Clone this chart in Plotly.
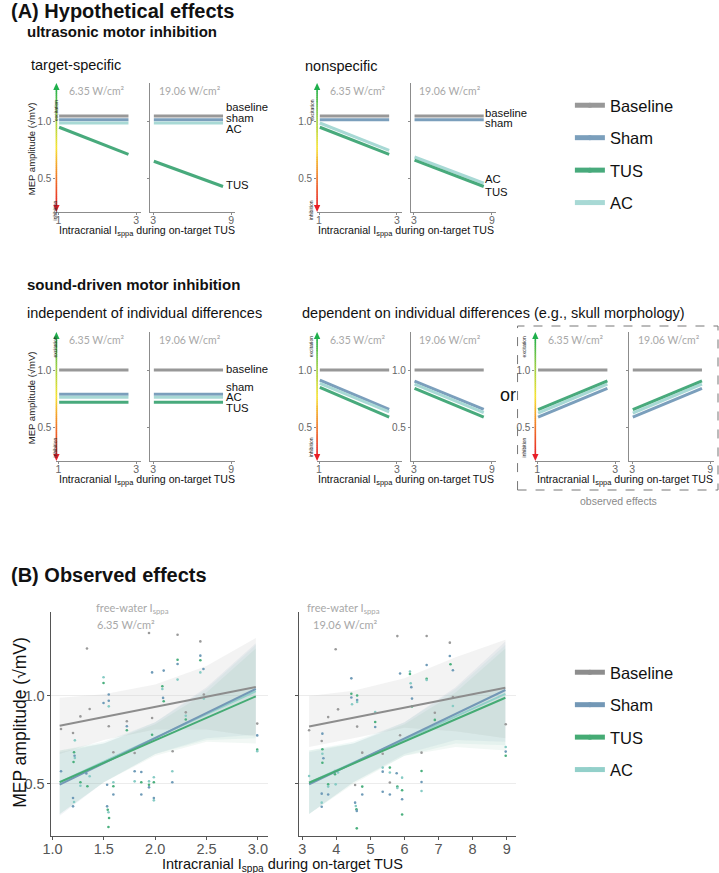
import numpy as np
import plotly.graph_objects as go

W, H = 719, 873
def fx(px): return px / W
def fy(py): return 1 - py / H

FONT = "Liberation Sans, Arial, Helvetica, sans-serif"
LIGHT = "Lato, 'Open Sans', sans-serif"

# ---------------- data ----------------
conditions = ["Baseline", "Sham", "TUS", "AC"]
line_colors = {"Baseline": "#989898", "Sham": "#7b9fbc", "TUS": "#48aa7c", "AC": "#a8d9d5"}
b_line_colors = {"Baseline": "#8d8d8d", "Sham": "#7398b6", "TUS": "#45ab74", "AC": "#93d0ca"}
point_colors = {"B": "#9a9a9a", "S": "#6f9bb8", "T": "#4bb07e", "A": "#86cbc4"}
ribbon_fill = {"Baseline": "rgba(200,200,200,0.22)", "Sham": "rgba(120,150,175,0.10)",
               "TUS": "rgba(90,170,130,0.08)", "AC": "rgba(150,205,200,0.13)"}

# (A) hypothetical effects: start / end values of each line
hyp_x_low = [1.02, 2.8]
hyp_x_high = [3.05, 8.37]
target_low = {"Baseline": [1.043, 1.043], "Sham": [1.011, 1.011], "AC": [0.983, 0.983], "TUS": [0.946, 0.71]}
target_high = {"Baseline": [1.043, 1.043], "Sham": [1.011, 1.011], "AC": [0.983, 0.983], "TUS": [0.65, 0.43]}
nonspec_low = {"Baseline": [1.043, 1.043], "Sham": [1.011, 1.011], "AC": [0.983, 0.745], "TUS": [0.946, 0.71]}
nonspec_high = {"Baseline": [1.043, 1.043], "Sham": [1.011, 1.011], "AC": [0.687, 0.46], "TUS": [0.66, 0.43]}
indep_low = {"Baseline": [1.0, 1.0], "Sham": [0.788, 0.788], "AC": [0.762, 0.762], "TUS": [0.72, 0.72]}
indep_high = {"Baseline": [1.0, 1.0], "Sham": [0.788, 0.788], "AC": [0.762, 0.762], "TUS": [0.72, 0.72]}
dep_low = {"Baseline": [1.0, 1.0], "Sham": [0.912, 0.658], "AC": [0.883, 0.635], "TUS": [0.848, 0.59]}
dep_high = {"Baseline": [1.0, 1.0], "Sham": [0.903, 0.658], "AC": [0.877, 0.629], "TUS": [0.84, 0.59]}
obs_low = {"Baseline": [1.0, 1.0], "Sham": [0.59, 0.84], "AC": [0.625, 0.877], "TUS": [0.655, 0.906]}
obs_high = {"Baseline": [1.0, 1.0], "Sham": [0.59, 0.84], "AC": [0.625, 0.877], "TUS": [0.655, 0.906]}

# (B) observed effects: regression lines
b_x_low = [1.07, 2.98]
b_x_high = [3.2, 8.96]
b_lines_low = {"Baseline": [0.831, 1.051], "Sham": [0.496, 1.04], "AC": [0.51, 1.027], "TUS": [0.511, 0.998]}
b_lines_high = {"Baseline": [0.826, 1.047], "Sham": [0.498, 1.034], "AC": [0.507, 1.012], "TUS": [0.507, 0.99]}

# confidence ribbons
rib_x_low = [1.07, 1.5, 2.0, 2.5, 2.98]
rib_x_high = [3.2, 4.5, 6.0, 7.5, 8.96]
rib_upper_low = {"Baseline": [0.99, 1.01, 1.065, 1.17, 1.33], "Sham": [0.68, 0.73, 0.85, 1.05, 1.30],
                 "AC": [0.69, 0.74, 0.85, 1.04, 1.29], "TUS": [0.69, 0.73, 0.84, 1.02, 1.27]}
rib_lower_low = {"Baseline": [0.67, 0.75, 0.81, 0.81, 0.77], "Sham": [0.32, 0.51, 0.67, 0.76, 0.78],
                 "AC": [0.33, 0.51, 0.67, 0.75, 0.76], "TUS": [0.33, 0.51, 0.66, 0.74, 0.73]}
rib_upper_high = {"Baseline": [1.0, 1.03, 1.10, 1.22, 1.32], "Sham": [0.68, 0.73, 0.85, 1.05, 1.31],
                  "AC": [0.69, 0.74, 0.85, 1.04, 1.29], "TUS": [0.69, 0.73, 0.84, 1.02, 1.27]}
rib_lower_high = {"Baseline": [0.71, 0.76, 0.82, 0.80, 0.76], "Sham": [0.33, 0.51, 0.67, 0.75, 0.74],
                  "AC": [0.33, 0.51, 0.66, 0.73, 0.72], "TUS": [0.33, 0.50, 0.66, 0.71, 0.69]}

# individual observations (x, y, condition)
points_low = [
    (1.083, 0.8125, "B"), (1.083, 0.572, "S"), (1.20, 0.79, "B"), (1.218, 0.748, "A"),
    (1.21, 0.68, "T"), (1.215, 0.66, "S"), (1.218, 0.648, "A"), (1.205, 0.625, "T"),
    (1.20, 0.42, "S"), (1.21, 0.398, "A"), (1.20, 0.373, "S"), (1.272, 0.884, "B"),
    (1.272, 0.51, "T"), (1.272, 0.49, "A"), (1.33, 0.56, "S"), (1.336, 1.27, "B"),
    (1.34, 0.487, "T"), (1.362, 0.926, "B"), (1.362, 0.544, "A"), (1.497, 1.106, "A"),
    (1.497, 1.074, "T"), (1.497, 0.96, "S"), (1.548, 1.008, "S"), (1.548, 0.973, "S"),
    (1.548, 0.941, "A"), (1.548, 0.828, "B"), (1.532, 0.496, "S"), (1.532, 0.373, "S"),
    (1.538, 0.354, "T"), (1.545, 0.339, "A"), (1.551, 0.307, "T"), (1.545, 0.256, "T"),
    (1.593, 0.68, "B"), (1.593, 0.51, "A"), (1.593, 0.487, "T"), (1.593, 0.44, "S"),
    (1.724, 0.856, "B"), (1.724, 0.828, "S"), (1.724, 0.805, "T"), (1.80, 0.676, "B"),
    (1.80, 0.572, "S"), (1.80, 0.515, "A"), (1.865, 0.568, "S"), (1.865, 0.51, "T"),
    (1.865, 0.44, "S"), (1.94, 1.358, "B"), (1.94, 0.515, "A"), (1.94, 0.496, "T"),
    (1.94, 0.481, "S"), (1.97, 1.134, "S"), (1.97, 0.875, "B"), (1.97, 0.78, "T"),
    (1.987, 0.538, "A"), (1.987, 0.51, "T"), (1.987, 0.42, "S"), (1.987, 0.407, "A"),
    (2.07, 1.055, "T"), (2.07, 1.04, "A"), (2.077, 0.989, "S"), (2.083, 0.97, "T"),
    (2.083, 1.144, "S"), (2.17, 0.686, "B"), (2.167, 0.572, "A"), (2.167, 0.51, "S"),
    (2.218, 1.348, "B"), (2.218, 1.206, "T"), (2.218, 1.182, "S"), (2.218, 1.093, "A"),
    (2.298, 0.907, "B"), (2.298, 0.888, "A"), (2.298, 0.866, "T"), (2.44, 1.31, "B"),
    (2.44, 1.229, "S"), (2.44, 1.203, "T"), (2.44, 1.134, "A"), (2.47, 1.153, "S"),
    (2.474, 1.008, "B"), (2.474, 0.985, "A"), (2.994, 0.843, "B"), (2.994, 0.776, "S"),
    (2.994, 0.695, "T"), (2.994, 0.686, "A"),
]
points_high = [
    (3.2, 0.805, "B"), (3.2, 0.545, "A"), (3.57, 0.744, "B"), (3.59, 0.786, "S"),
    (3.59, 0.697, "T"), (3.59, 0.672, "A"), (3.62, 0.646, "S"), (3.59, 0.621, "T"),
    (3.57, 0.445, "S"), (3.57, 0.394, "A"), (3.57, 0.371, "S"), (3.76, 0.88, "B"),
    (3.76, 0.498, "T"), (3.76, 0.485, "A"), (3.76, 0.44, "S"), (3.96, 0.574, "S"),
    (3.96, 0.555, "T"), (3.98, 0.498, "A"), (3.98, 1.265, "B"), (4.05, 0.924, "B"),
    (4.05, 0.565, "A"), (4.44, 1.10, "S"), (4.44, 1.013, "T"), (4.44, 0.991, "S"),
    (4.46, 0.953, "A"), (4.61, 1.003, "T"), (4.61, 0.977, "S"), (4.61, 0.966, "A"),
    (4.61, 0.826, "B"), (4.55, 0.494, "B"), (4.55, 0.394, "S"), (4.57, 0.375, "A"),
    (4.59, 0.356, "T"), (4.60, 0.347, "S"), (4.60, 0.248, "T"), (4.76, 0.678, "B"),
    (4.76, 0.485, "T"), (4.76, 0.44, "S"), (5.14, 0.909, "A"), (5.14, 0.852, "T"),
    (5.14, 0.824, "S"), (5.36, 0.672, "B"), (5.36, 0.593, "A"), (5.36, 0.57, "S"),
    (5.36, 0.456, "S"), (5.57, 0.593, "T"), (5.57, 0.565, "A"), (5.57, 0.508, "B"),
    (5.57, 0.44, "S"), (5.77, 0.561, "S"), (5.79, 0.485, "T"), (5.79, 0.477, "A"),
    (5.79, 1.34, "B"), (5.87, 1.128, "S"), (5.87, 0.777, "B"), (5.93, 0.536, "A"),
    (5.93, 0.464, "T"), (5.93, 0.413, "S"), (5.93, 0.327, "T"), (6.16, 1.139, "A"),
    (6.16, 1.125, "T"), (6.18, 1.072, "A"), (6.2, 1.05, "S"), (6.22, 0.985, "S"),
    (6.22, 0.94, "T"), (6.5, 0.678, "B"), (6.5, 0.574, "T"), (6.5, 0.511, "S"),
    (6.5, 0.46, "A"), (6.65, 1.341, "B"), (6.65, 1.176, "S"), (6.65, 1.098, "T"),
    (6.65, 1.091, "A"), (6.89, 0.905, "B"), (6.89, 0.864, "T"), (7.33, 1.303, "B"),
    (7.33, 1.227, "S"), (7.35, 1.18, "T"), (7.42, 1.146, "S"), (7.42, 0.994, "B"),
    (7.42, 0.943, "A"), (8.97, 0.839, "B"), (8.97, 0.71, "A"), (8.97, 0.684, "S"),
    (8.97, 0.66, "T"),
]

x_tick_low = [1, 3]
x_tick_high = [3, 9]
y_ticks = [0.5, 1.0]
b_xticks_low = [1.0, 1.5, 2.0, 2.5, 3.0]
b_xticks_high = [3, 4, 5, 6, 7, 8, 9]

# ---------------- layout geometry (pixels) ----------------
ROW1 = (83, 212)
ROW2 = (332, 461)
YR_A = [0.208, 1.331]
XR_LOW = [0.95, 3.13]
XR_HIGH = [2.77, 9.3]

panels = [
    dict(x=(48, 134), row=ROW1, low=True, data=target_low, arrow=True, ylab=True, ytitle=True),
    dict(x=(143, 229), row=ROW1, low=False, data=target_high, arrow=False, ylab=False),
    dict(x=(312, 398), row=ROW1, low=True, data=nonspec_low, arrow=True, ylab=True),
    dict(x=(407, 493), row=ROW1, low=False, data=nonspec_high, arrow=False, ylab=False),
    dict(x=(48, 134), row=ROW2, low=True, data=indep_low, arrow=True, ylab=True, ytitle=True),
    dict(x=(143, 229), row=ROW2, low=False, data=indep_high, arrow=False, ylab=False),
    dict(x=(312, 398), row=ROW2, low=True, data=dep_low, arrow=True, ylab=True),
    dict(x=(407, 493), row=ROW2, low=False, data=dep_high, arrow=False, ylab=True),
    dict(x=(533, 619), row=ROW2, low=True, data=obs_low, arrow=True, ylab=True),
    dict(x=(628, 714), row=ROW2, low=False, data=obs_high, arrow=False, ylab=False),
]

fig = go.Figure()
layout = dict(width=W, height=H, margin=dict(l=0, r=0, t=0, b=0),
              paper_bgcolor="white", plot_bgcolor="rgba(0,0,0,0)",
              font=dict(family=FONT, color="#222"), showlegend=True)
shapes, annotations = [], []

AX_GRAY = "#8c8c8c"
GREEN, RED = "rgb(30,175,75)", "rgb(232,30,40)"

def grad_color(t):
    stops = [(0.0, (232, 30, 40)), (0.25, (240, 120, 40)), (0.5, (246, 226, 40)), (0.75, (150, 205, 60)), (1.0, (30, 175, 75))]
    for (t0, c0), (t1, c1) in zip(stops[:-1], stops[1:]):
        if t0 <= t <= t1:
            f = (t - t0) / (t1 - t0)
            c = [int(round(a + (b - a) * f)) for a, b in zip(c0, c1)]
            return "rgb(%d,%d,%d)" % tuple(c)
    return GREEN

def tri(xc, ytip, ybase, half):
    return "M %f %f L %f %f L %f %f Z" % (fx(xc), fy(ytip), fx(xc - half), fy(ybase), fx(xc + half), fy(ybase))

for i, p in enumerate(panels, start=1):
    xa = "xaxis" if i == 1 else f"xaxis{i}"
    ya = "yaxis" if i == 1 else f"yaxis{i}"
    xr = "x" if i == 1 else f"x{i}"
    yr = "y" if i == 1 else f"y{i}"
    x0, x1 = p["x"]
    r0, r1 = p["row"]
    ticks = x_tick_low if p["low"] else x_tick_high
    layout[xa] = dict(domain=[fx(x0), fx(x1)], range=XR_LOW if p["low"] else XR_HIGH,
                      anchor=yr, showline=True, linecolor=AX_GRAY, linewidth=1.2,
                      ticks="outside", ticklen=2, tickcolor=AX_GRAY, tickvals=ticks,
                      ticktext=[str(t) for t in ticks], tickfont=dict(size=10.5, color="#666"),
                      ticklabelstandoff=-4,
                      showgrid=False, zeroline=False, fixedrange=True)
    layout[ya] = dict(domain=[fy(r1), fy(r0)], range=YR_A, anchor=xr,
                      showline=not p["arrow"], linecolor=AX_GRAY, linewidth=1.2,
                      ticks="outside", ticklen=2, tickcolor=AX_GRAY, tickvals=y_ticks,
                      ticktext=["0.5", "1.0"], showticklabels=p["ylab"],
                      tickfont=dict(size=10, color="#666"),
                      showgrid=False, zeroline=False, fixedrange=True)
    xs = hyp_x_low if p["low"] else hyp_x_high
    for cond in ["Baseline", "Sham", "AC", "TUS"]:
        fig.add_trace(go.Scatter(x=xs, y=p["data"][cond], mode="lines", xaxis=xr, yaxis=yr,
                                 line=dict(color=line_colors[cond], width=3),
                                 showlegend=False, hoverinfo="skip"))
    cx = (x0 + x1) / 2 - 2
    annotations.append(dict(text="6.35 W/cm²" if p["low"] else "19.06 W/cm²",
                            x=fx(cx + (0 if p["low"] else -1)), y=fy(r0 + 8), xref="paper", yref="paper",
                            showarrow=False, font=dict(family=LIGHT, size=10.5, color="#a8a8a8"),
                            xanchor="center", yanchor="middle"))
    if p["arrow"]:
        N = 60
        top, bot = r0 + 5, r1 - 5
        for k in range(N):
            ya0 = bot - (bot - top) * k / N
            ya1 = bot - (bot - top) * (k + 1) / N
            shapes.append(dict(type="line", xref="paper", yref="paper", x0=fx(x0), x1=fx(x0),
                               y0=fy(ya0), y1=fy(ya1 - 0.3),
                               line=dict(color=grad_color((k + 0.5) / N), width=1.6)))
        shapes.append(dict(type="path", xref="paper", yref="paper", path=tri(x0, r0, r0 + 7, 3.2),
                           fillcolor=GREEN, line=dict(width=0)))
        shapes.append(dict(type="path", xref="paper", yref="paper", path=tri(x0, r1, r1 - 7, 3.2),
                           fillcolor=RED, line=dict(width=0)))
        annotations.append(dict(text="excitation", x=fx(x0 - 6), y=fy(r0 + 15), xref="paper", yref="paper",
                                showarrow=False, textangle=-90, font=dict(size=5, color="#222")))
        annotations.append(dict(text="inhibition", x=fx(x0 - 6), y=fy(r1 - 14), xref="paper", yref="paper",
                                showarrow=False, textangle=-90, font=dict(size=5, color="#222")))
    if p.get("ytitle"):
        annotations.append(dict(text="MEP amplitude (√mV)", x=fx(23), y=fy((r0 + r1) / 2 + 1),
                                xref="paper", yref="paper", showarrow=False, textangle=-90,
                                xanchor="center", yanchor="middle",
                                font=dict(size=9.5, color="#222")))

# legend entries for (A)
for rank, cond in enumerate(conditions):
    fig.add_trace(go.Scatter(x=[None], y=[None], mode="lines+markers", name=cond,
                             line=dict(color=line_colors[cond], width=5),
                             marker=dict(color=line_colors[cond], size=5),
                             legend="legend", legendgroup="a" + cond, legendrank=rank + 1))

# ---------------- (B) observed effects ----------------
BX_LOW, BX_HIGH = (43, 262), (294, 513)
BROW = (612, 836)
YR_B = [0.2045, 1.477]
for j, (xpx, low) in enumerate([(BX_LOW, True), (BX_HIGH, False)]):
    i = 11 + j
    xr, yr = f"x{i}", f"y{i}"
    tv = b_xticks_low if low else b_xticks_high
    layout[f"xaxis{i}"] = dict(domain=[fx(xpx[0]), fx(xpx[1])], range=[0.99, 3.096] if low else [2.913, 9.26],
                               anchor=yr, showline=True, linecolor="#555", linewidth=1,
                               ticks="outside", ticklen=3, tickcolor="#555", tickvals=tv,
                               ticktext=[("%.1f" % t) if low else str(t) for t in tv],
                               tickfont=dict(size=14.5, color="#555"), ticklabelstandoff=-3,
                               showgrid=False, zeroline=False, fixedrange=True)
    layout[f"yaxis{i}"] = dict(domain=[fy(BROW[1]), fy(BROW[0])], range=YR_B, anchor=xr,
                               showline=True, linecolor="#555", linewidth=1,
                               ticks="outside", ticklen=3, tickcolor="#555", tickvals=y_ticks,
                               ticktext=["0.5", "1.0"], showticklabels=low,
                               tickfont=dict(size=14.5, color="#555"),
                               showgrid=True, gridcolor="#ececec", gridwidth=1,
                               zeroline=False, fixedrange=True)
    rx = rib_x_low if low else rib_x_high
    up = rib_upper_low if low else rib_upper_high
    lo = rib_lower_low if low else rib_lower_high
    for cond in ["Baseline", "Sham", "AC", "TUS"]:
        fig.add_trace(go.Scatter(x=rx + rx[::-1], y=up[cond] + lo[cond][::-1], mode="lines",
                                 fill="toself", fillcolor=ribbon_fill[cond], line=dict(width=0),
                                 xaxis=xr, yaxis=yr, showlegend=False, hoverinfo="skip"))
    pts = points_low if low else points_high
    px_, py_, pc_ = zip(*pts)
    fig.add_trace(go.Scatter(x=list(px_), y=list(py_), mode="markers", xaxis=xr, yaxis=yr,
                             marker=dict(size=2.6, color=[point_colors[c] for c in pc_]),
                             showlegend=False, hoverinfo="skip"))
    lx = b_x_low if low else b_x_high
    ld = b_lines_low if low else b_lines_high
    for cond in ["Baseline", "AC", "Sham", "TUS"]:
        fig.add_trace(go.Scatter(x=lx, y=ld[cond], mode="lines", xaxis=xr, yaxis=yr,
                                 line=dict(color=b_line_colors[cond], width=2),
                                 showlegend=False, hoverinfo="skip"))
    cxp = 86 if low else 339
    annotations.append(dict(text="free-water I<sub>sppa</sub>", x=fx(cxp), y=fy(618), xref="paper", yref="paper",
                            showarrow=False, font=dict(family=LIGHT, size=11, color="#a8a8a8")))
    annotations.append(dict(text="6.35 W/cm²" if low else "19.06 W/cm²", x=fx(cxp + 1), y=fy(633),
                            xref="paper", yref="paper", showarrow=False,
                            font=dict(family=LIGHT, size=11, color="#a8a8a8")))

for rank, cond in enumerate(conditions):
    fig.add_trace(go.Scatter(x=[None], y=[None], mode="lines+markers", name=cond,
                             line=dict(color=b_line_colors[cond], width=5),
                             marker=dict(color=b_line_colors[cond], size=5),
                             legend="legend2", legendgroup="b" + cond, legendrank=rank + 1))

layout["legend"] = dict(x=fx(568), y=fy(88), xanchor="left", yanchor="top",
                        font=dict(size=16.5, color="#111"), tracegroupgap=8, bgcolor="rgba(0,0,0,0)")
layout["legend2"] = dict(x=fx(568), y=fy(655), xanchor="left", yanchor="top",
                         font=dict(size=16.5, color="#111"), tracegroupgap=8, bgcolor="rgba(0,0,0,0)")

# ---------------- texts ----------------
def txt(s, px, py, size, bold=False, color="#111", anchor="left", family=FONT):
    annotations.append(dict(text=("<b>%s</b>" % s) if bold else s, x=fx(px), y=fy(py),
                            xref="paper", yref="paper", showarrow=False, xanchor=anchor,
                            yanchor="middle", font=dict(size=size, color=color, family=family)))

txt("(A) Hypothetical effects", 0, 11, 20, bold=True)
txt("ultrasonic motor inhibition", 16, 32, 15, bold=True)
txt("target-specific", 20, 65, 14.5)
txt("nonspecific", 298, 66, 14.5)
txt("sound-driven motor inhibition", 16, 285, 15, bold=True)
txt("independent of individual differences", 16, 313, 14.5)
txt("dependent on individual differences (e.g., skull morphology)", 295, 313, 14.5)
txt("(B) Observed effects", 0, 575, 20, bold=True)

for s, px, py in [("baseline", 218, 107), ("sham", 218, 118), ("AC", 218, 129), ("TUS", 218, 185),
                  ("baseline", 480, 113), ("sham", 480, 123), ("AC", 480, 179), ("TUS", 480, 192),
                  ("baseline", 218, 369), ("sham", 218, 387), ("AC", 218, 397), ("TUS", 218, 408)]:
    txt(s, px, py, 11.3)

xtitle = "Intracranial I<sub>sppa</sub> during on-target TUS"
for cx, cy in [(140, 231), (402, 231), (140, 480), (402, 480), (624, 480)]:
    txt(xtitle, cx, cy, 10.6, anchor="center")

txt("or", 505, 395, 18, anchor="center")
txt("observed effects", 617, 501, 10.5, color="#8a8a8a", anchor="center")
shapes.append(dict(type="rect", xref="paper", yref="paper", x0=fx(515), x1=fx(718), y0=fy(490), y1=fy(326),
                   line=dict(color="#777", width=1, dash="dash")))

txt(xtitle, 277, 865, 14.5, anchor="center")
annotations.append(dict(text="MEP amplitude (√mV)", x=fx(11), y=fy(722), xref="paper", yref="paper",
                        showarrow=False, textangle=-90, xanchor="center", yanchor="middle",
                        font=dict(size=17.5, color="#111")))

layout["shapes"] = shapes
layout["annotations"] = annotations
fig.update_layout(**layout)
fig.write_html("out.html", config={"displayModeBar": False},
               post_script="document.body.style.margin='0px';")
